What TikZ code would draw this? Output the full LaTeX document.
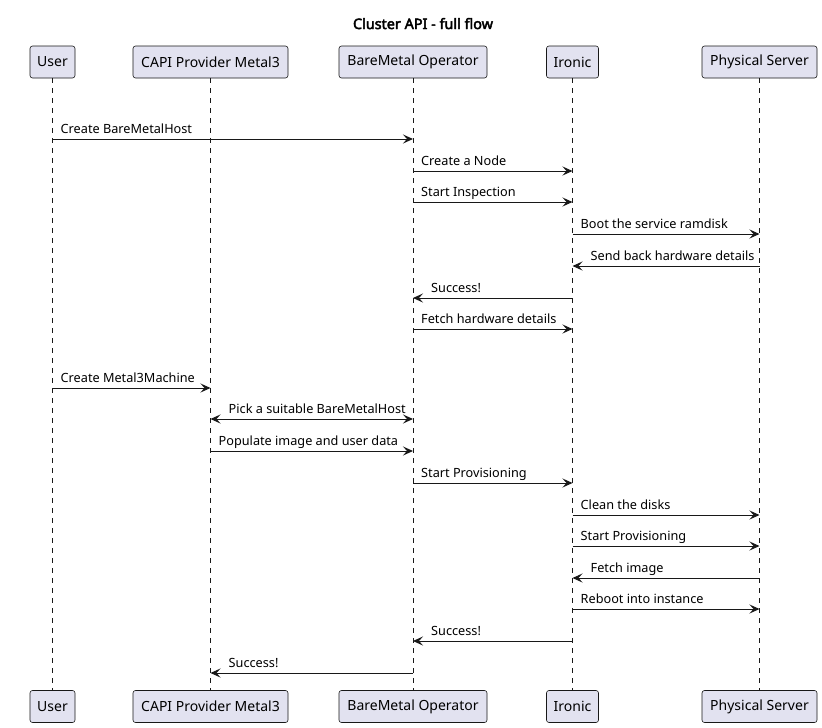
\documentclass[tikz,border=0pt]{standalone}
\usepackage{fontspec}
\setmainfont{Noto Sans}
\newfontfamily\titlefont{Noto Sans}[FakeBold=3]
\usetikzlibrary{arrows.meta}
\definecolor{boxfill}{HTML}{E2E2F0}
\definecolor{ink}{HTML}{181818}
\tikzset{
  part/.style={draw=ink, fill=boxfill, line width=0.6pt, rounded corners=2.5pt,
    minimum height=32pt, inner sep=0pt, font=\fontsize{14}{16}\selectfont, text=black},
  lifeline/.style={draw=ink, line width=0.5pt, dash pattern=on 5pt off 5pt},
  msgline/.style={draw=ink, line width=1pt},
  tip/.style={-{Stealth[length=10pt,width=9pt,inset=4pt]}},
  bitip/.style={{Stealth[length=10pt,width=9pt,inset=4pt]}-{Stealth[length=10pt,width=9pt,inset=4pt]}},
  lbl/.style={anchor=base west, inner sep=0pt, font=\fontsize{12.7}{15}\selectfont, text=black},
}
\begin{document}
\begin{tikzpicture}[x=1pt,y=-1pt]
\useasboundingbox[fill=white] (0,0) rectangle (822,728);
\node[font=\titlefont\fontsize{14.4}{16}\selectfont, anchor=base] (title) at (423,29) {Cluster API - full flow};
% top participants
\node[part, minimum width=45pt] (usr) at (52.5,62) {User};
\node[part, minimum width=155pt] (capi) at (210.5,62) {CAPI Provider Metal3};
\node[part, minimum width=148pt] (bmo) at (413,62) {BareMetal Operator};
\node[part, minimum width=52pt] (iro) at (572.5,62) {Ironic};
\node[part, minimum width=115pt] (phy) at (759.5,62) {Physical Server};
% bottom participants
\node[part, minimum width=45pt] (usrb) at (52.5,706.5) {User};
\node[part, minimum width=155pt] (capib) at (210.5,706.5) {CAPI Provider Metal3};
\node[part, minimum width=148pt] (bmob) at (413,706.5) {BareMetal Operator};
\node[part, minimum width=52pt] (irob) at (572.5,706.5) {Ironic};
\node[part, minimum width=115pt] (phyb) at (759.5,706.5) {Physical Server};
% lifelines
\draw[lifeline] (usr) -- (usrb);
\draw[lifeline] (capi) -- (capib);
\draw[lifeline] (bmo) -- (bmob);
\draw[lifeline] (iro) -- (irob);
\draw[lifeline] (phy) -- (phyb);
% messages
\newcommand\rmsg[4]{% y, from, to, label
  \draw[msgline, tip] (#2 |- 0,#1) -- (#3 |- 0,#1);
  \path (#2 |- 0,#1) ++(8,-6) node[lbl] {#4};}
\newcommand\lmsg[4]{% y, from, to, label (arrow points left to #3)
  \draw[msgline, tip] (#2 |- 0,#1) -- (#3 |- 0,#1);
  \path (#3 |- 0,#1) ++(18,-6) node[lbl] {#4};}
\rmsg{139}{usr}{bmo}{Create BareMetalHost}
\rmsg{171}{bmo}{iro}{Create a Node}
\rmsg{202}{bmo}{iro}{Start Inspection}
\rmsg{234}{iro}{phy}{Boot the service ramdisk}
\lmsg{266}{phy}{iro}{Send back hardware details}
\lmsg{298}{iro}{bmo}{Success!}
\rmsg{329}{bmo}{iro}{Fetch hardware details}
\rmsg{388}{usr}{capi}{Create Metal3Machine}
\draw[msgline, bitip] (capi |- 0,419) -- (bmo |- 0,419);
\path (capi |- 0,419) ++(18,-6) node[lbl] {Pick a suitable BareMetalHost};
\rmsg{451}{capi}{bmo}{Populate image and user data}
\rmsg{483}{bmo}{iro}{Start Provisioning}
\rmsg{515}{iro}{phy}{Clean the disks}
\rmsg{546}{iro}{phy}{Start Provisioning}
\lmsg{578}{phy}{iro}{Fetch image}
\rmsg{609}{iro}{phy}{Reboot into instance}
\lmsg{641}{iro}{bmo}{Success!}
\lmsg{673}{bmo}{capi}{Success!}
\end{tikzpicture}
\end{document}
